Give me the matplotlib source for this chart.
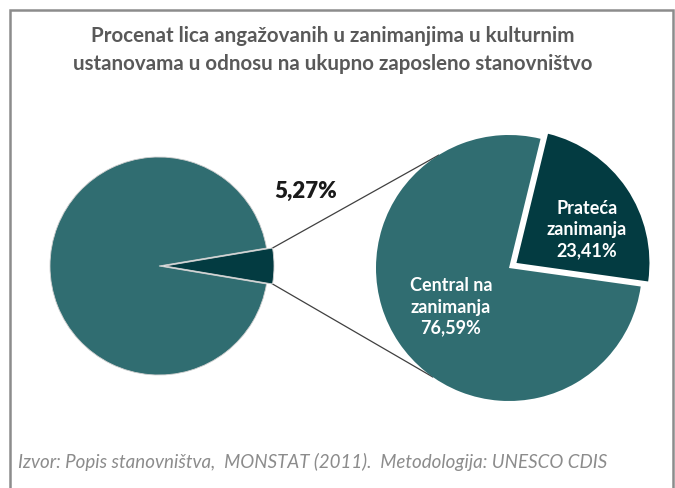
import numpy as np
import matplotlib.pyplot as plt
from matplotlib.patches import Rectangle

# data
overall_labels = ["Kultura", "Ostalo"]
overall_values = [5.27, 94.73]
detail_labels = ["Prateća\nzanimanja", "Central na\nzanimanja"]
detail_values = [23.41, 76.59]

title = ("Procenat lica angažovanih u zanimanjima u kulturnim\n"
         "ustanovama u odnosu na ukupno zaposleno stanovništvo")
source = "Izvor: Popis stanovništva,  MONSTAT (2011).  Metodologija: UNESCO CDIS"

teal = "#306d71"
dark = "#033b41"

W, H = 675, 488
fig = plt.figure(figsize=(W / 100, H / 100), dpi=100)
ax = fig.add_axes([0, 0, 1, 1])

def fy(y):
    # pixel row (from top) -> data y
    return H - y

# left pie (whole employed population)
cl = (159, fy(266))
rl = 109
off_l = 6  # explode is in data units, not radius fraction
start_l = -overall_values[0] * 360 / 200
ax.pie(overall_values, colors=[dark, teal], startangle=start_l,
       explode=[off_l, 0], center=cl, radius=rl,
       wedgeprops=dict(linewidth=0.6, edgecolor="#cfcfcf"))

# right pie (split of cultural occupations)
cr = (509, fy(268))
rr = 133
ax.pie(detail_values, colors=[dark, teal], startangle=-8,
       explode=[9, 0], center=cr, radius=rr,
       wedgeprops=dict(linewidth=0))

# connector lines
half = np.radians(overall_values[0] * 360 / 200)
for sgn, ang in [(1, 122), (-1, 235)]:
    x0 = cl[0] + off_l + rl * np.cos(sgn * half)
    y0 = cl[1] + rl * np.sin(sgn * half)
    x1 = cr[0] + rr * np.cos(np.radians(ang))
    y1 = cr[1] + rr * np.sin(np.radians(ang))
    ax.plot([x0, x1], [y0, y1], color="#404040", lw=0.9, zorder=0)

ax.text(306, fy(191), f"{overall_values[0]:.2f}%".replace(".", ","),
        ha="center", va="center", fontsize=16, fontweight="heavy",
        family="Lato", color="#1a1a1a")

ax.text(587, fy(230),
        detail_labels[0] + "\n" + f"{detail_values[0]:.2f}%".replace(".", ","),
        ha="center", va="center", fontsize=13, fontweight="bold",
        family="Lato", color="white", linespacing=1.3)
ax.text(451, fy(307),
        detail_labels[1] + "\n" + f"{detail_values[1]:.2f}%".replace(".", ","),
        ha="center", va="center", fontsize=13, fontweight="bold",
        family="Lato", color="white", linespacing=1.3)

ax.text(333, fy(50), title, ha="center", va="center", fontsize=14.8,
        fontweight="bold", family="Lato", color="#595959", linespacing=1.55)
ax.text(18, fy(462), source, ha="left", va="center", fontsize=13.5,
        style="italic", family="Lato", color="#8c8c8c")

# chart frame
ax.add_patch(Rectangle((10, -20), 663, fy(10) + 20, fill=False,
                       edgecolor="#8c8c8c", lw=1.8, zorder=5))

ax.set_xlim(0, W)
ax.set_ylim(0, H)
ax.set_aspect("auto")
ax.axis("off")

fig.savefig("out.png", dpi=100)
